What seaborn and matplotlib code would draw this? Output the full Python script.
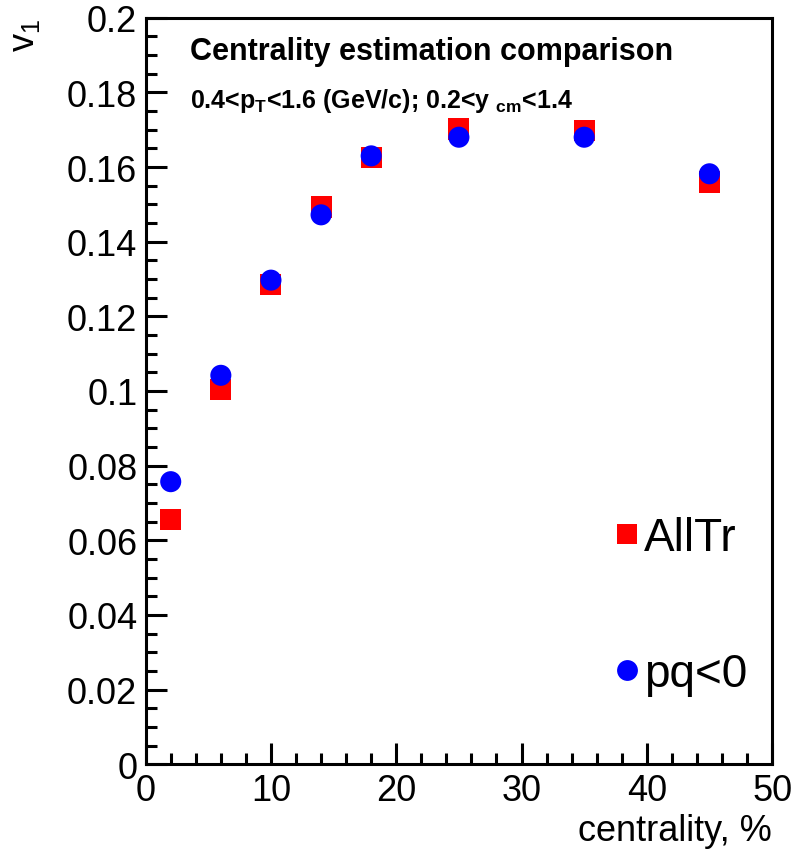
import pandas as pd
import matplotlib
matplotlib.use("Agg")
import matplotlib.pyplot as plt
import seaborn as sns
from matplotlib.ticker import MultipleLocator, FuncFormatter
from matplotlib.lines import Line2D

# data
centrality = [2, 6, 10, 14, 18, 25, 35, 45]
v1_alltr = [0.0655, 0.1005, 0.1285, 0.1493, 0.1625, 0.1702, 0.1698, 0.1560]
v1_pq = [0.0757, 0.1042, 0.1297, 0.1472, 0.1630, 0.1680, 0.1680, 0.1582]
series_names = ["AllTr", "pq<0"]

sns.set_theme(style="ticks")
plt.rcParams['font.family'] = ['Liberation Sans', 'DejaVu Sans']
plt.rcParams['mathtext.fontset'] = 'custom'
plt.rcParams['mathtext.rm'] = 'Liberation Sans'
plt.rcParams['mathtext.bf'] = 'Liberation Sans:bold'
for key in ['text.color', 'axes.labelcolor', 'xtick.color', 'ytick.color', 'axes.edgecolor']:
    plt.rcParams[key] = 'black'

df = pd.DataFrame({
    "centrality": centrality * 2,
    "v1": v1_alltr + v1_pq,
    "series": [series_names[0]] * len(centrality) + [series_names[1]] * len(centrality),
})

fig = plt.figure(figsize=(7.96, 8.54), dpi=100)
ax = fig.add_axes([0.183, 0.104, 0.787, 0.874])

sns.scatterplot(data=df, x="centrality", y="v1", hue="series", style="series",
                hue_order=series_names, style_order=series_names,
                palette={"AllTr": "#ff0000", "pq<0": "#0000ff"},
                markers={"AllTr": "s", "pq<0": "o"},
                s=230, linewidth=0, ax=ax, legend=False)

ax.set_xlim(0, 50)
ax.set_ylim(0, 0.2)
ax.xaxis.set_major_locator(MultipleLocator(10))
ax.xaxis.set_minor_locator(MultipleLocator(2))
ax.yaxis.set_major_locator(MultipleLocator(0.02))
ax.yaxis.set_minor_locator(MultipleLocator(0.005))
ax.yaxis.set_major_formatter(FuncFormatter(lambda v, p: "0" if v == 0 else f"{v:.2f}".rstrip("0")))
ax.tick_params(which="both", direction="in", top=False, right=False, width=2.2, labelsize=26, pad=6)
ax.tick_params(which="major", length=15)
ax.tick_params(which="minor", length=8)
for sp in ax.spines.values():
    sp.set_linewidth(2.2)

ax.set_xlabel("centrality, %", fontsize=26, ha="right", x=1.0)
ax.set_ylabel("v$_1$", fontsize=26, ha="right", y=1.0, labelpad=18)

ax.text(0.07, 0.955, "Centrality estimation comparison", transform=ax.transAxes,
        fontsize=22, fontweight="bold", va="center")
ax.text(0.07, 0.89, r"0.4<p$_{\mathbf{T}}$<1.6 (GeV/c); 0.2<y $_{\mathbf{cm}}$<1.4",
        transform=ax.transAxes, fontsize=18, fontweight="bold", va="center")

# legend without frame, placed bottom right
handles = [Line2D([0], [0], marker="s", color="none", markerfacecolor="#ff0000", markeredgewidth=0, markersize=15),
           Line2D([0], [0], marker="o", color="none", markerfacecolor="#0000ff", markeredgewidth=0, markersize=15)]
ax.legend(handles, series_names, loc="center left", bbox_to_anchor=(0.75, 0.212),
          frameon=False, fontsize=33, handlelength=0.5, handletextpad=0.12,
          labelspacing=2.0, borderpad=0, borderaxespad=0)

fig.savefig("out.png", dpi=100)
